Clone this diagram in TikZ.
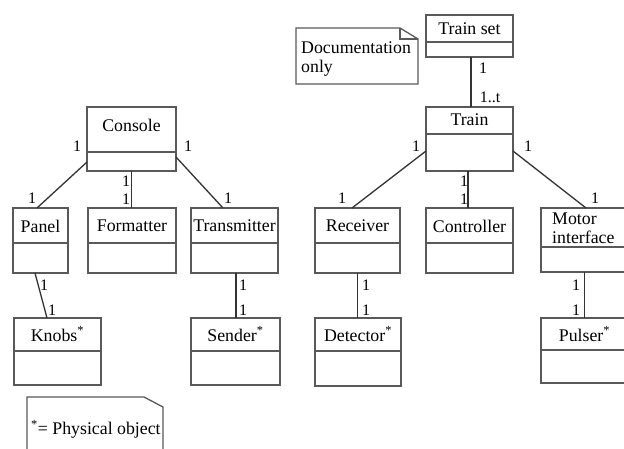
\documentclass[tikz,border=0pt]{standalone}
\usepackage{fontspec}
\setmainfont{Liberation Serif}
\newfontfamily\umlfont{Liberation Serif}
\usetikzlibrary{fit,calc}

% UML class box: name, left, top, right, divider, bottom
\newcommand\umlclass[6]{%
  \node[classbox, fit={(#2,#3) (#4,#6)}] (#1) {};
  \draw[boxline] (#2,#5) -- (#4,#5);
}

\begin{document}
\begin{tikzpicture}[x=1pt,y=-1pt,
  boxline/.style={draw=black!65, line width=1.4pt},
  classbox/.style={boxline, inner sep=0pt, outer sep=0pt},
  title/.style={font=\umlfont\fontsize{17.8}{19}\selectfont, inner sep=0pt, text=black},
  mult/.style={font=\umlfont\fontsize{16}{18}\selectfont, inner sep=0pt, text=black},
  assoc/.style={draw=black!80, line width=1.3pt},
  notebox/.style={draw=black!65, line width=1.3pt, fill=white}]
\useasboundingbox[fill=white] (0,0) rectangle (624,448);

% ---------- notes ----------
\draw[notebox] (296,28) -- (400,28) -- (418,39) -- (418,84) -- (296,84) -- cycle;
\draw[draw=black!65, line width=1.1pt] (400,28) -- (400,39) -- (418,39);
\node[title, anchor=west, align=left] (doctext) at (301,59) {Documentation\\only};

\draw[notebox] (27,460) -- (27,397) -- (144,397) -- (163,407) -- (163,460);
\node[title, anchor=west] (phystext) at (31,429) {\textsuperscript{*}= Physical object};

% ---------- classes ----------
\umlclass{console}{87}{107}{176}{152}{171}
\node[title] (consoleT) at (131.5,125) {Console};
\umlclass{panel}{13}{208}{68}{243}{273}
\node[title] (panelT) at (40.5,226) {Panel};
\umlclass{formatter}{88}{208}{176}{243}{273}
\node[title] (formatterT) at (132,226) {Formatter};
\umlclass{transmitter}{191}{208}{278}{243}{273}
\node[title] (transmitterT) at (234.5,226) {Transmitter};
\umlclass{knobs}{14}{318}{101}{351}{385}
\node[title] (knobsT) at (57.5,334) {Knobs\textsuperscript{*}};
\umlclass{sender}{191}{318}{280}{351}{385}
\node[title] (senderT) at (235.5,334) {Sender\textsuperscript{*}};

\umlclass{trainset}{426}{15}{513}{42}{57}
\node[title] (trainsetT) at (469.5,29) {Train set};
\umlclass{train}{426}{107}{513}{134}{171}
\node[title] (trainT) at (469.5,120) {Train};
\umlclass{receiver}{315}{208}{400}{243}{273}
\node[title] (receiverT) at (357.5,226) {Receiver};
\umlclass{controller}{426}{208}{513}{243}{273}
\node[title] (controllerT) at (469.5,226) {Controller};
\umlclass{motor}{541}{208}{628}{247}{272}
\node[title, anchor=west, align=left] (motorT) at (552,228) {Motor\\interface};
\umlclass{detector}{315}{318}{401}{351}{386}
\node[title] (detectorT) at (358,334) {Detector\textsuperscript{*}};
\umlclass{pulser}{541}{318}{628}{350}{383}
\node[title] (pulserT) at (584.5,334) {Pulser\textsuperscript{*}};

% ---------- associations ----------
\draw[assoc] ([yshift=9pt]console.south west) -- ([xshift=-3.5pt]panel.north);
\draw[assoc] (console.south) -- (console.south |- formatter.north);
\draw[assoc] ([yshift=14pt]console.south east) -- ([xshift=-11.5pt]transmitter.north);
\draw[assoc] ([xshift=-5.5pt]panel.south) -- ([xshift=-10.5pt]knobs.north);
\draw[assoc] ([xshift=1.5pt]transmitter.south) -- ([xshift=1.5pt]transmitter.south |- sender.north);

\draw[assoc] ([xshift=1.5pt]trainset.south) -- ([xshift=1.5pt]trainset.south |- train.north);
\draw[assoc] ([yshift=20pt]train.south west) -- ([xshift=-5.5pt]receiver.north);
\draw[assoc] ([xshift=-1.5pt]train.south) -- ([xshift=-1.5pt]train.south |- controller.north);
\draw[assoc] ([yshift=20pt]train.south east) -- ([xshift=1.5pt]motor.north);
\draw[assoc] (receiver.south) -- (receiver.south |- detector.north);
\draw[assoc] (motor.south) -- (motor.south |- pulser.north);

% ---------- multiplicities ----------
\node[mult] (m1) at (77,146) {1};
\node[mult] (m2) at (32,198) {1};
\node[mult] (m3) at (126,181) {1};
\node[mult] (m4) at (126,199) {1};
\node[mult] (m5) at (188,146) {1};
\node[mult] (m6) at (228,198) {1};
\node[mult] (m7) at (44,285) {1};
\node[mult] (m8) at (52,310) {1};
\node[mult] (m9) at (243,285) {1};
\node[mult] (m10) at (243,310) {1};

\node[mult] (m11) at (483,68) {1};
\node[mult] (m12) at (490,97) {1..t};
\node[mult] (m13) at (416,146) {1};
\node[mult] (m14) at (342,198) {1};
\node[mult] (m15) at (464,181) {1};
\node[mult] (m16) at (464,199) {1};
\node[mult] (m17) at (528,146) {1};
\node[mult] (m18) at (595,198) {1};
\node[mult] (m19) at (366,285) {1};
\node[mult] (m20) at (366,310) {1};
\node[mult] (m21) at (576,285) {1};
\node[mult] (m22) at (576,310) {1};
\end{tikzpicture}
\end{document}
